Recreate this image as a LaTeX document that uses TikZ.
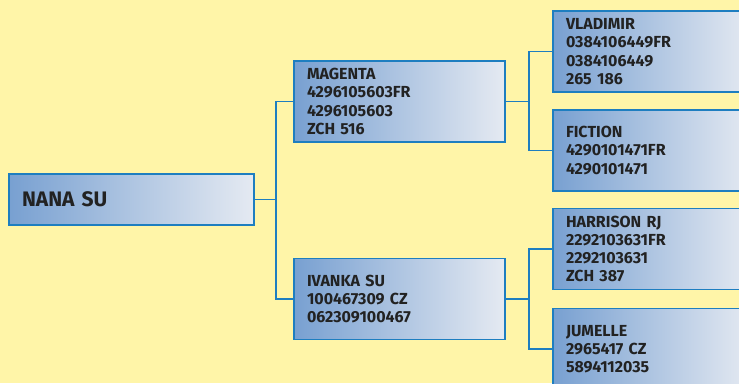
\documentclass[tikz,border=0pt]{standalone}
\usepackage{fontspec}
\setmainfont{Fira Sans}
\usepackage{xcolor}
\usepackage{tikz}

\definecolor{paper}{RGB}{255,245,168}
\definecolor{edge}{RGB}{30,126,192}
\definecolor{shadeL}{RGB}{120,160,209}
\definecolor{shadeR}{RGB}{229,234,242}
\definecolor{ink}{RGB}{34,34,34}

\begin{document}
\begin{tikzpicture}[
    x=1pt, y=-1pt,
    font=\bfseries\fontsize{16}{18.3}\selectfont,
    box/.style     ={draw=edge, line width=1.4pt, left color=shadeL, right color=shadeR, text=ink, minimum width=211pt, minimum height=81pt, text width=185pt, inner xsep=13pt, align=left},
    rootbox/.style ={box, minimum width=245pt, minimum height=51pt, text width=219pt, font=\bfseries\fontsize{21}{24}\selectfont},
    leafbox/.style ={box, minimum width=198pt, text width=172pt},
    link/.style    ={draw=edge, line width=1.4pt}
]

% --- Frame ---
\useasboundingbox (0,0) rectangle (739,383);
\clip (0,0) rectangle (739,383);
\fill[paper] (0,0) rectangle (739,383);

% --- Root ---
\node[rootbox] (nana) at (131.5,199.5) {NANA SU};

% --- Parents ---
\node[box] (magenta) at (399.5,101.5) {MAGENTA\\4296105603FR\\4296105603\\ZCH 516};
\node[box] (ivanka)  at (399.5,299)   {IVANKA SU\\100467309 CZ\\062309100467};

% --- Grandparents ---
\node[leafbox] (vladimir) at (652,51.5)  {VLADIMIR\\0384106449FR\\0384106449\\265 186};
\node[leafbox] (fiction)  at (652,150.5) {FICTION\\4290101471FR\\4290101471};
\node[leafbox] (harrison) at (652,249)   {HARRISON RJ\\2292103631FR\\2292103631\\ZCH 387};
\node[leafbox] (jumelle)  at (652,349)   {JUMELLE\\2965417 CZ\\5894112035};

% --- Forks ---
\coordinate (fork1) at (276,199.5);
\coordinate (fork2) at (529,101.5);
\coordinate (fork3) at (529,299);

% --- Connectors ---
\draw[link] (nana.east) -- (fork1);
\draw[link] (magenta.west) -| (fork1) |- (ivanka.west);
\draw[link] (magenta.east) -- (fork2);
\draw[link] (vladimir.west) -| (fork2) |- (fiction.west);
\draw[link] (ivanka.east) -- (fork3);
\draw[link] (harrison.west) -| (fork3) |- (jumelle.west);

\end{tikzpicture}
\end{document}
